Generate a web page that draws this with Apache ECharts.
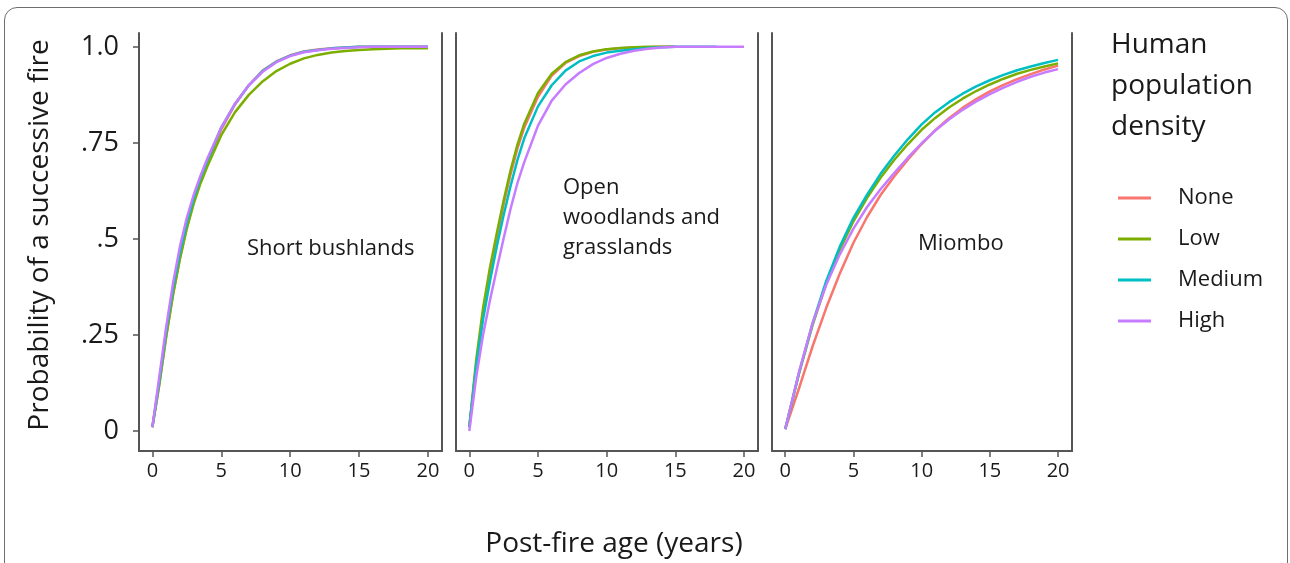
<!DOCTYPE html>
<html>
<head>
<meta charset="utf-8">
<script src="https://cdn.jsdelivr.net/npm/echarts@6/dist/echarts.min.js"></script>
<style>
  html, body { margin: 0; padding: 0; background: #fff; overflow: hidden; }
  #frame { position: absolute; left: 4px; top: 7px; width: 1282px; height: 620px;
           border: 1.5px solid #6e6e6e; border-radius: 13px; }
  #chart { position: absolute; left: 0; top: 0; width: 1290px; height: 563px; }
</style>
</head>
<body>
<div id="frame"></div>
<div id="chart"></div>
<script>
// groups and colours (ggplot defaults)
var groups = ['None', 'Low', 'Medium', 'High'];
var colors = ['#F8766D', '#7CAE00', '#00BFC4', '#C77CFF'];
var panelNames = ['Short bushlands', 'Open\nwoodlands and\ngrasslands', 'Miombo'];

var xTicks = [0, 5, 10, 15, 20];
var yTicks = [0, 0.25, 0.5, 0.75, 1];
var yTickLabels = ['0', '.25', '.5', '.75', '1.0'];

// post-fire age (years) where values were read
var xFine = [0, 0.5, 1, 1.5, 2, 2.5, 3, 3.5, 4, 5, 6, 7, 8, 9, 10, 11, 12, 13, 14, 15, 16, 17, 18, 19, 20];
var xYears = [0, 1, 2, 3, 4, 5, 6, 7, 8, 9, 10, 11, 12, 13, 14, 15, 16, 17, 18, 19, 20];

// Short bushlands
var bushNone = [0.01, 0.12, 0.245, 0.355, 0.45, 0.53, 0.597, 0.652, 0.70, 0.785, 0.85, 0.90, 0.938, 0.962, 0.978, 0.988, 0.993, 0.996, 0.998, 1.0, 1.0, 1.0, 1.0, 1.0, 1.0];
var bushLow = [0.01, 0.12, 0.245, 0.355, 0.448, 0.527, 0.592, 0.645, 0.69, 0.77, 0.83, 0.875, 0.91, 0.937, 0.956, 0.97, 0.979, 0.985, 0.989, 0.992, 0.994, 0.995, 0.996, 0.996, 0.996];
var bushMedium = [0.01, 0.13, 0.26, 0.372, 0.465, 0.543, 0.606, 0.66, 0.705, 0.79, 0.852, 0.90, 0.937, 0.961, 0.977, 0.987, 0.992, 0.996, 0.998, 1.0, 1.0, 1.0, 1.0, 1.0, 1.0];
var bushHigh = [0.01, 0.14, 0.27, 0.385, 0.48, 0.555, 0.615, 0.665, 0.71, 0.79, 0.852, 0.90, 0.935, 0.96, 0.976, 0.986, 0.991, 0.995, 0.997, 0.999, 1.0, 1.0, 1.0, 1.0, 1.0];

// Open woodlands and grasslands
var openNone = [0.01, 0.17, 0.30, 0.41, 0.505, 0.59, 0.668, 0.735, 0.79, 0.87, 0.925, 0.958, 0.976, 0.987, 0.993, 0.996, 0.998, 0.999, 1.0, 1.0];
var openLow = [0.01, 0.185, 0.32, 0.425, 0.515, 0.60, 0.678, 0.745, 0.80, 0.88, 0.93, 0.96, 0.978, 0.988, 0.994, 0.997, 0.999, 1.0, 1.0, 1.0];
var openMedium = [0.01, 0.17, 0.29, 0.39, 0.48, 0.562, 0.637, 0.705, 0.762, 0.845, 0.90, 0.938, 0.962, 0.976, 0.985, 0.99, 0.994, 0.997, 0.999, 1.0, 1.0, 1.0, 1.0];
var openHigh = [0.0, 0.14, 0.25, 0.34, 0.422, 0.502, 0.578, 0.645, 0.70, 0.795, 0.86, 0.902, 0.932, 0.955, 0.971, 0.982, 0.99, 0.995, 0.998, 1.0, 1.0, 1.0, 1.0, 1.0, 1.0];

// Miombo
var mioNone = [0.005, 0.11, 0.22, 0.32, 0.41, 0.49, 0.557, 0.615, 0.663, 0.707, 0.747, 0.783, 0.814, 0.841, 0.864, 0.884, 0.901, 0.916, 0.929, 0.941, 0.951];
var mioLow = [0.005, 0.148, 0.275, 0.383, 0.472, 0.546, 0.607, 0.66, 0.706, 0.747, 0.784, 0.815, 0.842, 0.865, 0.885, 0.902, 0.917, 0.93, 0.94, 0.949, 0.957];
var mioMedium = [0.005, 0.15, 0.28, 0.39, 0.48, 0.555, 0.615, 0.67, 0.717, 0.76, 0.798, 0.83, 0.856, 0.878, 0.897, 0.913, 0.927, 0.939, 0.949, 0.958, 0.966];
var mioHigh = [0.005, 0.152, 0.28, 0.38, 0.46, 0.527, 0.583, 0.63, 0.672, 0.712, 0.749, 0.782, 0.811, 0.836, 0.858, 0.877, 0.894, 0.909, 0.922, 0.933, 0.942];

var panels = [
  { xs: xFine, vals: [bushNone, bushLow, bushMedium, bushHigh] },
  { xs: xFine, vals: [openNone, openLow, openMedium, openHigh] },
  { xs: xYears, vals: [mioNone, mioLow, mioMedium, mioHigh] }
];

var font = 'Open Sans';
var axisColor = '#555';
var textColor = '#1a1a1a';
var gridPos = [
  { left: 139, width: 303 },
  { left: 456, width: 302 },
  { left: 772, width: 300 }
];

var chart = echarts.init(document.getElementById('chart'));

var grids = [], xAxes = [], yAxes = [], series = [];
panels.forEach(function (p, i) {
  grids.push({ left: gridPos[i].left, width: gridPos[i].width, top: 33, height: 418 });
  xAxes.push({
    type: 'value', gridIndex: i, min: -0.97, max: 21.02,
    axisLine: { show: true, onZero: false, lineStyle: { color: axisColor, width: 2 } },
    axisTick: { show: true, customValues: xTicks, length: 6, lineStyle: { color: axisColor, width: 1.5 } },
    axisLabel: { customValues: xTicks, fontSize: 20, fontFamily: font, color: textColor, margin: 10 },
    splitLine: { show: false }
  });
  yAxes.push({
    type: 'value', gridIndex: i, min: -0.052, max: 1.036, position: 'left',
    axisLine: { show: true, onZero: false, lineStyle: { color: axisColor, width: 2 } },
    axisTick: { show: i === 0, customValues: yTicks, length: 6, lineStyle: { color: axisColor, width: 1.5 } },
    axisLabel: {
      show: i === 0, customValues: yTicks, fontSize: 27, fontFamily: font, color: textColor, margin: 20,
      formatter: function (v) { return yTickLabels[yTicks.indexOf(v)]; }
    },
    splitLine: { show: false }
  });
  yAxes.push({
    type: 'value', gridIndex: i, min: -0.052, max: 1.036, position: 'right',
    axisLine: { show: true, onZero: false, lineStyle: { color: axisColor, width: 2 } },
    axisTick: { show: false }, axisLabel: { show: false }, splitLine: { show: false }
  });
  p.vals.forEach(function (vals, g) {
    series.push({
      name: groups[g], type: 'line', xAxisIndex: i, yAxisIndex: i * 2,
      data: vals.map(function (v, k) { return [p.xs[k], v]; }),
      smooth: false, showSymbol: false, symbol: 'none',
      lineStyle: { color: colors[g], width: 2.5, join: 'round' }, itemStyle: { color: colors[g] },
      emphasis: { disabled: true }
    });
  });
});

chart.setOption({
  animation: false,
  textStyle: { fontFamily: font },
  grid: grids,
  xAxis: xAxes,
  yAxis: yAxes,
  series: series,
  legend: {
    data: groups, orient: 'vertical', left: 1113, top: 181,
    icon: 'rect', itemWidth: 33, itemHeight: 3, itemGap: 17,
    textStyle: { fontSize: 22, fontFamily: font, color: textColor, lineHeight: 24, padding: [0, 0, 0, 22] },
    selectedMode: false
  },
  graphic: [
    { type: 'text', left: 247, top: 238, style: { text: panelNames[0], fontSize: 22, fontFamily: font, fill: textColor } },
    { type: 'text', left: 563, top: 173, style: { text: panelNames[1], fontSize: 22, lineHeight: 30, fontFamily: font, fill: textColor } },
    { type: 'text', left: 918, top: 233, style: { text: panelNames[2], fontSize: 22, fontFamily: font, fill: textColor } },
    { type: 'text', x: 40, y: 235, rotation: Math.PI / 2,
      style: { text: 'Probability of a successive fire', fontSize: 28, fontFamily: font, fill: textColor, align: 'center', verticalAlign: 'middle' } },
    { type: 'text', x: 614, y: 544,
      style: { text: 'Post-fire age (years)', fontSize: 28, fontFamily: font, fill: textColor, align: 'center', verticalAlign: 'middle' } },
    { type: 'text', left: 1111, top: 25,
      style: { text: 'Human\npopulation\ndensity', fontSize: 28, lineHeight: 41, fontFamily: font, fill: textColor } }
  ]
});
</script>
</body>
</html>
